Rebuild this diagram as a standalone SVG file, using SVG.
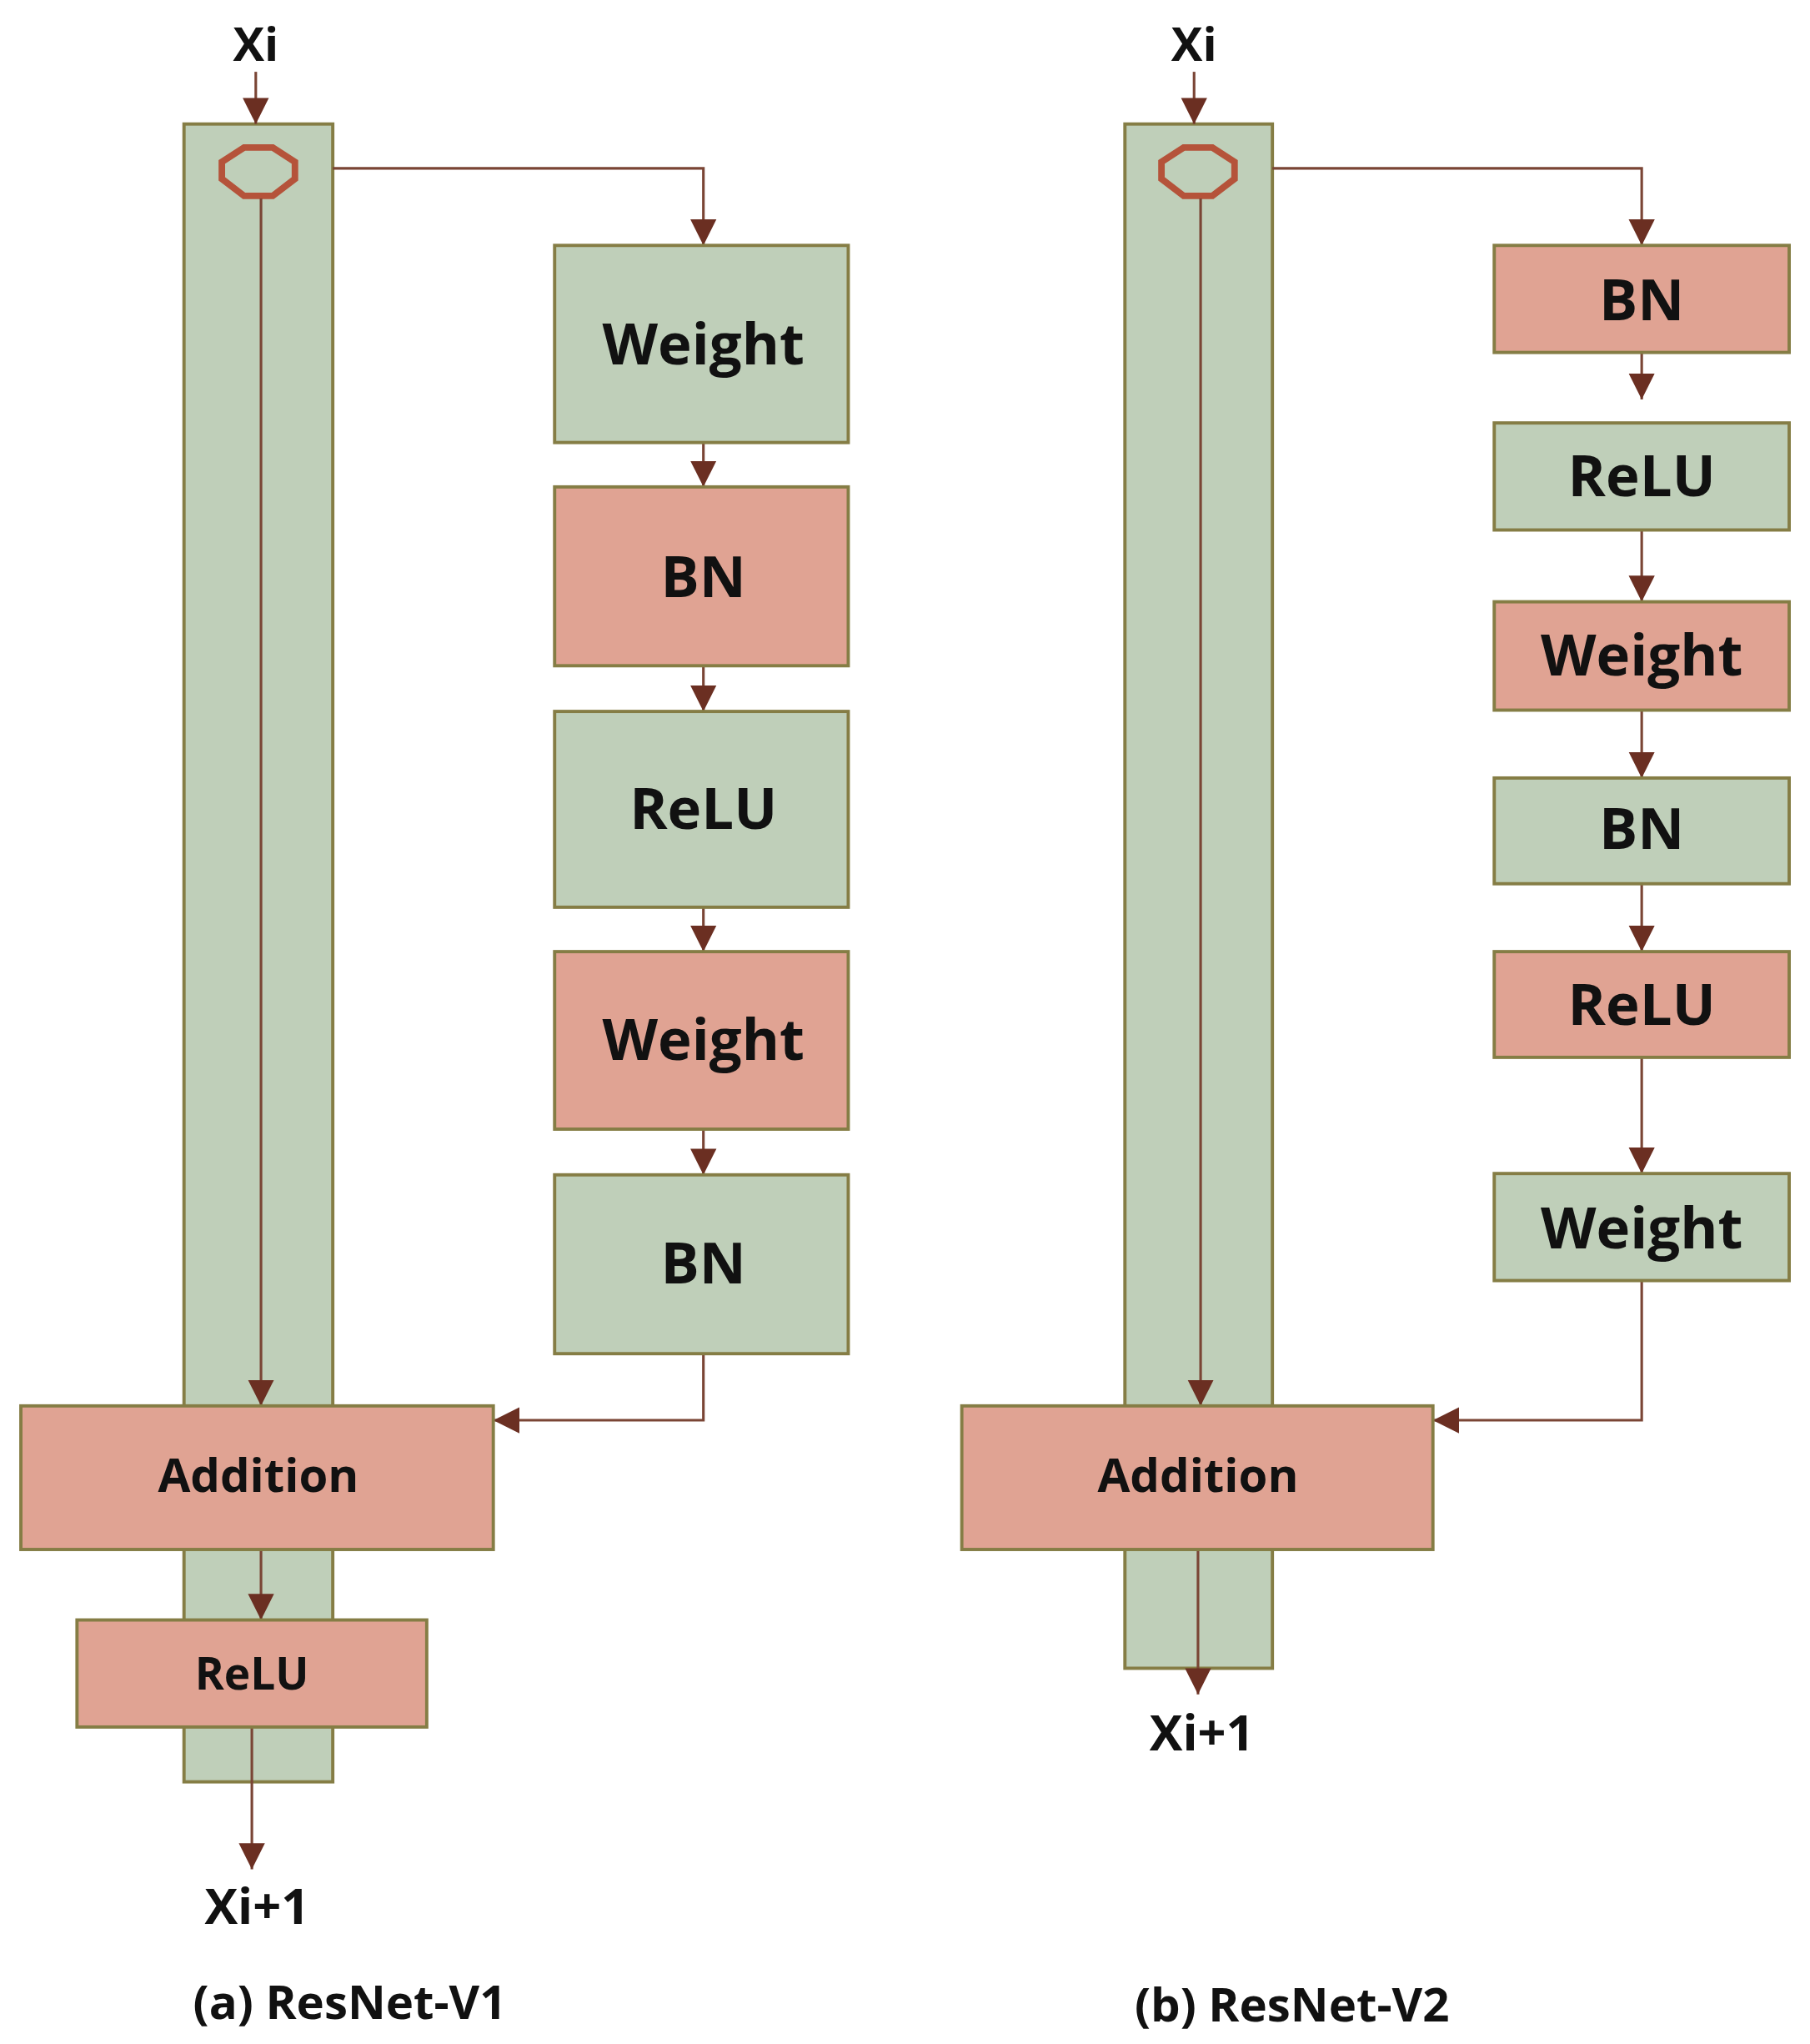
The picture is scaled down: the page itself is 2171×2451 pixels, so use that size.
<svg xmlns="http://www.w3.org/2000/svg" width="2171" height="2451" viewBox="0 0 2171 2451">
<style>
.g{fill:#bfcfb9;stroke:#857d45;stroke-width:2.5}
.p{fill:#e0a393;stroke:#857d45;stroke-width:2.5}
.t{font-family:"Open Sans","DejaVu Sans",sans-serif;font-weight:bold;fill:#111;text-anchor:middle;dominant-baseline:central}
.c{fill:none;stroke:#7a4535;stroke-width:2;marker-end:url(#a)}
.o{fill:none;stroke:#b5533a;stroke-width:5}
</style>
<defs><marker id="a" viewBox="0 0 10 10" refX="10" refY="5" markerWidth="10" markerHeight="10" markerUnits="userSpaceOnUse" orient="auto"><path d="M0,0 L10,5 L0,10 z" fill="#6b2f22" transform="scale(1)"/></marker>
<marker id="b" viewBox="0 0 20 20" refX="20" refY="10" markerWidth="20" markerHeight="22" markerUnits="userSpaceOnUse" orient="auto"><path d="M0,0 L20,10 L0,20 z" fill="#6b2f22"/></marker></defs>
<rect width="2171" height="2451" fill="#fff"/>
<g transform="scale(1.5653)">
<g id="barL"><rect class="g" x="141" y="95" width="114" height="1270"/><polygon class="o" points="187,113 209,113 226,124 226,137 209,150 187,150 170,137 170,124"/></g>
<g id="barR"><rect class="g" x="862" y="95" width="113" height="1183"/><polygon class="o" points="907,113 929,113 946,124 946,137 929,150 907,150 890,137 890,124"/></g>
<g id="connectors" style="--m:url(#b)">
<path class="c" style="marker-end:url(#b)" d="M196,55V95"/>
<path class="c" style="marker-end:url(#b)" d="M200,152V1077"/>
<path class="c" style="marker-end:url(#b)" d="M255,129H539V188"/>
<path class="c" style="marker-end:url(#b)" d="M539,339V373"/>
<path class="c" style="marker-end:url(#b)" d="M539,510V545"/>
<path class="c" style="marker-end:url(#b)" d="M539,695V729"/>
<path class="c" style="marker-end:url(#b)" d="M539,865V900"/>
<path class="c" style="marker-end:url(#b)" d="M539,1037V1088H378"/>
<path class="c" style="marker-end:url(#b)" d="M200,1187V1241"/>
<path class="c" style="marker-end:url(#b)" d="M193,1323V1432"/>
<path class="c" style="marker-end:url(#b)" d="M915,55V95"/>
<path class="c" style="marker-end:url(#b)" d="M920,152V1077"/>
<path class="c" style="marker-end:url(#b)" d="M975,129H1258V188"/>
<path class="c" style="marker-end:url(#b)" d="M1258,270V306"/>
<path class="c" style="marker-end:url(#b)" d="M1258,406V461"/>
<path class="c" style="marker-end:url(#b)" d="M1258,544V596"/>
<path class="c" style="marker-end:url(#b)" d="M1258,677V729"/>
<path class="c" style="marker-end:url(#b)" d="M1258,810V899"/>
<path class="c" style="marker-end:url(#b)" d="M1258,981V1088H1098"/>
<path class="c" style="marker-end:url(#b)" d="M918,1187V1298"/>
</g>
<g id="l1"><rect class="g" x="425" y="188" width="225" height="151"/><text class="t" x="539" y="262" font-size="44">Weight</text></g>
<g id="l2"><rect class="p" x="425" y="373" width="225" height="137"/><text class="t" x="539" y="440" font-size="44">BN</text></g>
<g id="l3"><rect class="g" x="425" y="545" width="225" height="150"/><text class="t" x="539" y="618" font-size="44">ReLU</text></g>
<g id="l4"><rect class="p" x="425" y="729" width="225" height="136"/><text class="t" x="539" y="795" font-size="44">Weight</text></g>
<g id="l5"><rect class="g" x="425" y="900" width="225" height="137"/><text class="t" x="539" y="966" font-size="44">BN</text></g>
<g id="addL"><rect class="p" x="16" y="1077" width="362" height="110"/><text class="t" x="198" y="1129" font-size="36">Addition</text></g>
<g id="reluL"><rect class="p" x="59" y="1241" width="268" height="82"/><text class="t" x="193" y="1281" font-size="34">ReLU</text></g>
<g id="r1"><rect class="p" x="1145" y="188" width="226" height="82"/><text class="t" x="1258" y="228" font-size="44">BN</text></g>
<g id="r2"><rect class="g" x="1145" y="324" width="226" height="82"/><text class="t" x="1258" y="363" font-size="44">ReLU</text></g>
<g id="r3"><rect class="p" x="1145" y="461" width="226" height="83"/><text class="t" x="1258" y="500" font-size="44">Weight</text></g>
<g id="r4"><rect class="g" x="1145" y="596" width="226" height="81"/><text class="t" x="1258" y="633" font-size="44">BN</text></g>
<g id="r5"><rect class="p" x="1145" y="729" width="226" height="81"/><text class="t" x="1258" y="768" font-size="44">ReLU</text></g>
<g id="r6"><rect class="g" x="1145" y="899" width="226" height="82"/><text class="t" x="1258" y="939" font-size="44">Weight</text></g>
<g id="addR"><rect class="p" x="737" y="1077" width="361" height="110"/><text class="t" x="918" y="1129" font-size="36">Addition</text></g>
<g id="labels">
<text class="t" x="196" y="33" font-size="36">Xi</text>
<text class="t" x="915" y="33" font-size="36">Xi</text>
<text class="t" x="197" y="1459" font-size="38">Xi+1</text>
<text class="t" x="921" y="1326" font-size="38">Xi+1</text>
<text class="t" x="268" y="1533" font-size="36">(a) ResNet-V1</text>
<text class="t" x="990" y="1535" font-size="36">(b) ResNet-V2</text>
</g>
</g>
</svg>
